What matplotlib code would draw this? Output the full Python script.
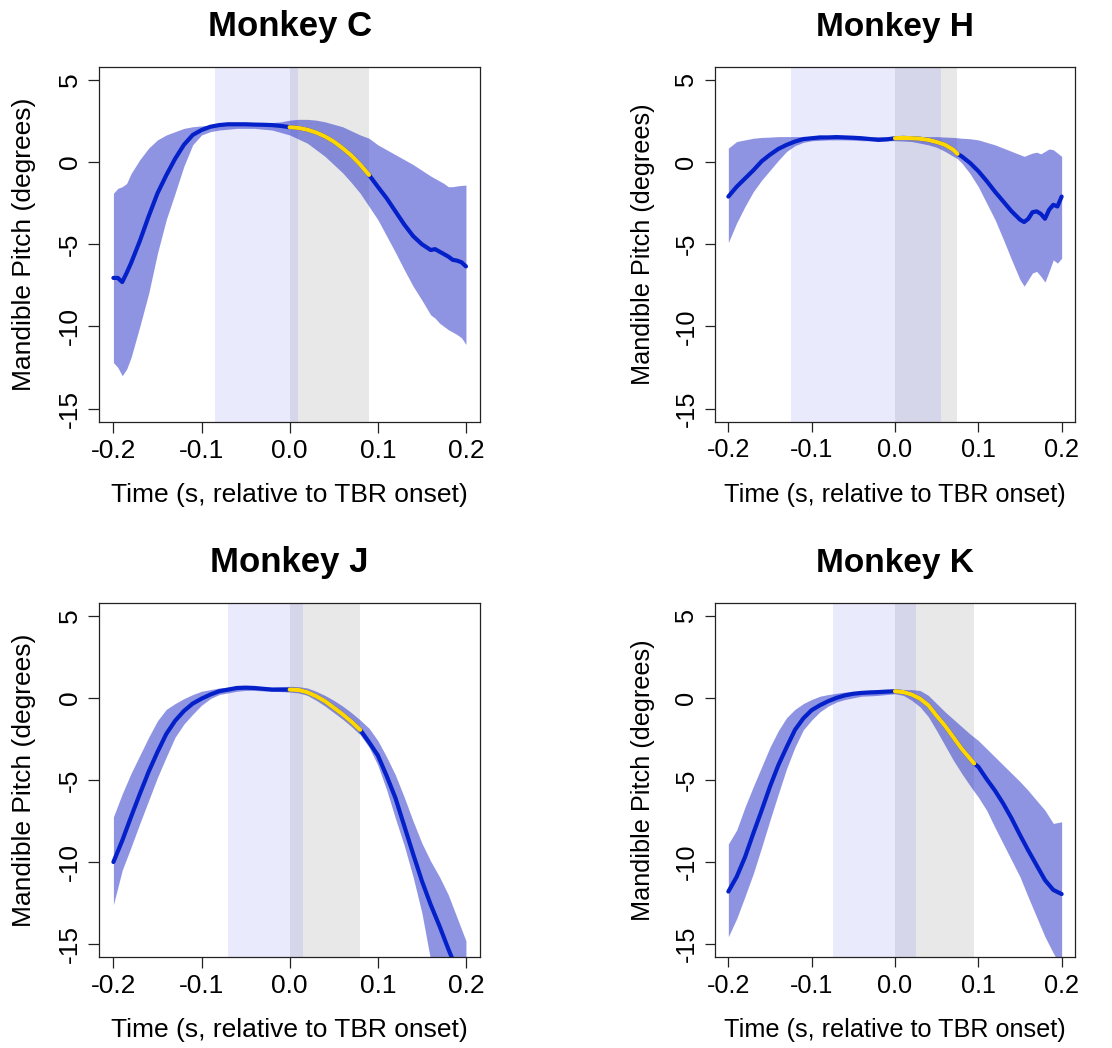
import matplotlib
matplotlib.use("Agg")
import matplotlib.pyplot as plt
import numpy as np
from matplotlib import rcParams

rcParams['font.family'] = 'sans-serif'
rcParams['font.sans-serif'] = ['Liberation Sans', 'DejaVu Sans']

# ---- Monkey C ----
t_c = [-0.2, -0.195, -0.19, -0.185, -0.18,
       -0.17, -0.16, -0.15, -0.14, -0.13, -0.12, -0.11, -0.10, -0.09, -0.08,
       -0.07, -0.06, -0.05, -0.04, -0.03, -0.02, -0.01, 0.0, 0.01, 0.02,
       0.03, 0.04, 0.05, 0.06, 0.07, 0.08, 0.09, 0.10, 0.11, 0.12,
       0.13, 0.14, 0.15, 0.16,
       0.165, 0.17, 0.175, 0.18, 0.185, 0.19, 0.195, 0.2]
mean_c = [-7.05, -7.05, -7.3, -6.75, -6.15,
          -4.8, -3.3, -1.9, -0.8, 0.2, 1.05, 1.65, 1.95, 2.15, 2.25,
          2.3, 2.3, 2.3, 2.28, 2.27, 2.25, 2.2, 2.12, 2.08, 1.97,
          1.8, 1.56, 1.25, 0.85, 0.4, -0.15, -0.78, -1.5, -2.2, -3.0,
          -3.8, -4.5, -5.0, -5.35,
          -5.3, -5.45, -5.6, -5.75, -5.95, -6.0, -6.1, -6.35]
upper_c = [-1.9, -1.6, -1.5, -1.3, -0.7,
           0.15, 0.85, 1.35, 1.65, 1.85, 2.05, 2.15, 2.2, 2.25, 2.3,
           2.3, 2.35, 2.35, 2.35, 2.35, 2.4, 2.45, 2.55, 2.6, 2.6,
           2.55, 2.45, 2.3, 2.15, 1.9, 1.65, 1.45, 1.05, 0.75, 0.45,
           0.15, -0.15, -0.5, -0.85,
           -1.0, -1.15, -1.3, -1.5, -1.5, -1.45, -1.42, -1.4]
lower_c = [-12.2, -12.5, -13.0, -12.6, -11.9,
           -10.0, -8.0, -5.55, -3.5, -1.9, -0.25, 1.05, 1.65, 1.85, 1.95,
           2.0, 2.05, 2.05, 2.05, 2.0, 1.95, 1.8, 1.65, 1.4, 1.15,
           0.75, 0.35, -0.15, -0.65, -1.25, -1.9, -2.7, -3.5, -4.5, -5.5,
           -6.55, -7.55, -8.4, -9.3,
           -9.5, -9.8, -10.0, -10.2, -10.35, -10.5, -10.7, -11.1]
blue_c = [-0.0845, 0.01]
gray_c = [0.0, 0.09]

# ---- Monkey H ----
t_h = [-0.20, -0.19, -0.18, -0.17, -0.16, -0.15, -0.14, -0.13, -0.12, -0.11,
       -0.10, -0.09, -0.08, -0.07, -0.06, -0.05, -0.04, -0.03, -0.02, -0.01,
       0.00, 0.01, 0.02, 0.03, 0.04, 0.05, 0.06, 0.07, 0.075,
       0.08, 0.09, 0.10, 0.11, 0.12, 0.13, 0.14, 0.15,
       0.155, 0.16, 0.165, 0.17, 0.175, 0.18, 0.185, 0.19, 0.195, 0.20]
mean_h = [-2.1, -1.5, -1.0, -0.5, 0.05, 0.45, 0.8, 1.05, 1.25, 1.4,
          1.45, 1.5, 1.5, 1.52, 1.5, 1.48, 1.45, 1.4, 1.35, 1.38,
          1.45, 1.47, 1.45, 1.42, 1.35, 1.22, 1.05, 0.75, 0.5,
          0.35, -0.05, -0.55, -1.15, -1.8, -2.4, -3.0, -3.5,
          -3.65, -3.45, -3.05, -3.0, -3.15, -3.45, -2.9, -2.6, -2.7, -2.1]
upper_h = [0.85, 1.25, 1.35, 1.45, 1.5, 1.52, 1.55, 1.55, 1.55, 1.55,
           1.55, 1.55, 1.55, 1.55, 1.55, 1.55, 1.55, 1.55, 1.55, 1.55,
           1.55, 1.55, 1.55, 1.55, 1.55, 1.55, 1.52, 1.5, 1.48,
           1.45, 1.42, 1.35, 1.2, 1.05, 0.85, 0.65, 0.45,
           0.35, 0.45, 0.55, 0.6, 0.5, 0.65, 0.8, 0.75, 0.55, 0.35]
lower_h = [-4.9, -3.7, -2.7, -1.8, -1.1, -0.5, 0.1, 0.65, 1.0, 1.2,
           1.3, 1.32, 1.35, 1.35, 1.35, 1.33, 1.3, 1.3, 1.3, 1.3,
           1.3, 1.28, 1.25, 1.15, 1.05, 0.9, 0.65, 0.35, 0.2,
           -0.05, -0.7, -1.5, -2.5, -3.5, -4.7, -5.95, -7.15,
           -7.55, -7.15, -6.75, -6.65, -6.95, -7.3, -6.65, -5.95, -6.15, -5.85]
blue_h = [-0.125, 0.055]
gray_h = [0.0, 0.075]

# ---- Monkey J ----
t_j = [-0.20, -0.19, -0.18, -0.17, -0.16, -0.15, -0.14, -0.13, -0.12, -0.11,
       -0.10, -0.09, -0.08, -0.07, -0.06, -0.05, -0.04, -0.03, -0.02, -0.01,
       0.00, 0.01, 0.02, 0.03, 0.04, 0.05, 0.06, 0.07, 0.08,
       0.09, 0.10, 0.11, 0.12, 0.13, 0.14, 0.15, 0.16, 0.17, 0.18, 0.19, 0.20]
mean_j = [-10.0, -8.7, -7.25, -5.85, -4.5, -3.3, -2.2, -1.4, -0.8, -0.35,
          -0.05, 0.2, 0.4, 0.5, 0.6, 0.62, 0.6, 0.55, 0.5, 0.5,
          0.5, 0.48, 0.34, 0.1, -0.2, -0.6, -1.0, -1.45, -1.95,
          -2.7, -3.5, -4.75, -6.1, -7.8, -9.5, -11.15, -12.6, -13.9, -15.3, -16.6, -17.8]
upper_j = [-7.25, -5.85, -4.6, -3.5, -2.4, -1.4, -0.7, -0.35, -0.05, 0.2,
           0.4, 0.5, 0.6, 0.65, 0.7, 0.72, 0.7, 0.68, 0.65, 0.68,
           0.7, 0.68, 0.6, 0.4, 0.15, -0.15, -0.5, -0.9, -1.35,
           -1.85, -2.6, -3.6, -4.7, -6.05, -7.5, -8.85, -9.95, -10.9, -12.0, -13.4, -14.8]
lower_j = [-12.6, -10.5, -9.1, -7.65, -6.25, -4.85, -3.6, -2.4, -1.6, -1.0,
           -0.45, -0.05, 0.2, 0.3, 0.4, 0.45, 0.45, 0.42, 0.4, 0.38,
           0.35, 0.3, 0.15, -0.15, -0.5, -0.9, -1.3, -1.75, -2.25,
           -3.0, -4.1, -5.6, -7.35, -9.0, -10.9, -13.1, -16.0, -18.0, -20.0, -21.5, -23.0]
blue_j = [-0.07, 0.015]
gray_j = [0.0, 0.08]

# ---- Monkey K ----
t_k = [-0.20, -0.19, -0.18, -0.17, -0.16, -0.15, -0.14, -0.13, -0.12, -0.11,
       -0.10, -0.09, -0.08, -0.07, -0.06, -0.05, -0.04, -0.03, -0.02, -0.01,
       0.00, 0.01, 0.02, 0.03, 0.04, 0.05, 0.06, 0.07, 0.08, 0.09, 0.095,
       0.10, 0.11, 0.12, 0.13, 0.14, 0.15, 0.16, 0.17, 0.18, 0.19, 0.20]
mean_k = [-11.8, -10.9, -9.7, -8.25, -6.85, -5.4, -4.1, -3.0, -1.95, -1.25,
          -0.75, -0.45, -0.2, 0.0, 0.15, 0.25, 0.3, 0.33, 0.35, 0.38,
          0.4, 0.35, 0.2, -0.05, -0.45, -1.1, -1.7, -2.4, -3.1, -3.7, -4.0,
          -4.2, -4.95, -5.65, -6.45, -7.35, -8.35, -9.3, -10.2, -11.1, -11.7, -11.95]
upper_k = [-8.9, -8.05, -6.65, -5.4, -4.2, -3.0, -2.0, -1.2, -0.7, -0.35,
           -0.1, 0.1, 0.2, 0.28, 0.35, 0.38, 0.4, 0.42, 0.45, 0.48,
           0.5, 0.5, 0.5, 0.45, 0.15, -0.35, -0.85, -1.3, -1.75, -2.2, -2.4,
           -2.6, -3.1, -3.6, -4.1, -4.6, -5.1, -5.65, -6.25, -6.85, -7.65, -7.55]
lower_k = [-14.55, -13.45, -12.1, -10.7, -9.1, -7.45, -5.85, -4.3, -3.0, -1.95,
           -1.35, -0.85, -0.5, -0.25, -0.1, 0.0, 0.1, 0.12, 0.15, 0.2,
           0.25, 0.15, -0.15, -0.55, -1.15, -2.0, -2.9, -3.8, -4.6, -5.35, -5.7,
           -6.05, -6.85, -7.9, -8.9, -9.9, -10.9, -12.15, -13.35, -14.55, -15.55, -16.4]
blue_k = [-0.075, 0.025]
gray_k = [0.0, 0.095]

titles = ['Monkey C', 'Monkey H', 'Monkey J', 'Monkey K']
x_ticks = [-0.2, -0.1, 0.0, 0.1, 0.2]
x_ticklabels = ['-0.2', '-0.1', '0.0', '0.1', '0.2']
y_ticks = [-15, -10, -5, 0, 5]
y_ticklabels = ['-15', '-10', '-5', '0', '5']

line_col = '#0420c8'
ribbon_col = (0.13, 0.17, 0.78)
band_blue = '#e9eafc'
band_gray = '#e8e8e8'
band_both = '#d5d6ea'


def draw_panel(ax, title, t, mean, upper, lower, blue, gray, fs, tfs):
    t = np.array(t)
    mean = np.array(mean)
    # shaded epochs
    ax.axvspan(blue[0], blue[1], color=band_blue, lw=0, zorder=0)
    ax.axvspan(gray[0], gray[1], color=band_gray, lw=0, zorder=0)
    ax.axvspan(max(blue[0], gray[0]), min(blue[1], gray[1]),
               color=band_both, lw=0, zorder=0.5)
    ax.fill_between(t, lower, upper, color=ribbon_col, alpha=0.5, lw=0, zorder=1)
    ax.plot(t, mean, color=line_col, lw=3, solid_capstyle='round',
            solid_joinstyle='round', zorder=2)
    seg = (t >= gray[0] - 1e-9) & (t <= gray[1] + 1e-9)
    ax.plot(t[seg], mean[seg], color='#ffd700', lw=3, solid_capstyle='round',
            solid_joinstyle='round', zorder=3)

    ax.set_xlim(-0.216, 0.216)
    ax.set_ylim(-15.8, 5.8)
    ax.set_xticks(x_ticks)
    ax.set_xticklabels(x_ticklabels)
    ax.set_yticks(y_ticks)
    ax.set_yticklabels(y_ticklabels, rotation=90, va='center')
    ax.tick_params(direction='out', length=fs * 0.41, width=0.9, labelsize=fs,
                   color='#222222', pad=4.5)
    for sp in ax.spines.values():
        sp.set_linewidth(0.9)
        sp.set_color('#222222')
    ax.set_title(title, fontsize=tfs, fontweight='bold', pad=22)
    ax.set_xlabel('Time (s, relative to TBR onset)', fontsize=fs, va='center')
    ax.set_ylabel('Mandible Pitch (degrees)', fontsize=fs, va='center')


fig = plt.figure(figsize=(11.12, 10.48), dpi=100)

ax_c = fig.add_axes([0.0893, 0.5976, 0.3424, 0.3387])
ax_h = fig.add_axes([0.6430, 0.5976, 0.3237, 0.3387])
ax_j = fig.add_axes([0.0893, 0.0866, 0.3424, 0.3384])
ax_k = fig.add_axes([0.6430, 0.0866, 0.3237, 0.3384])

draw_panel(ax_c, titles[0], t_c, mean_c, upper_c, lower_c, blue_c, gray_c, 19, 25)
draw_panel(ax_h, titles[1], t_h, mean_h, upper_h, lower_h, blue_h, gray_h, 18.2, 24)
draw_panel(ax_j, titles[2], t_j, mean_j, upper_j, lower_j, blue_j, gray_j, 19, 25)
draw_panel(ax_k, titles[3], t_k, mean_k, upper_k, lower_k, blue_k, gray_k, 18.2, 24)

for ax in [ax_c, ax_j]:
    ax.xaxis.set_label_coords(0.5, -0.206)
    ax.yaxis.set_label_coords(-0.198, 0.5)
for ax in [ax_h, ax_k]:
    ax.xaxis.set_label_coords(0.5, -0.206)
    ax.yaxis.set_label_coords(-0.2, 0.5)

plt.savefig('out.png', dpi=100)
